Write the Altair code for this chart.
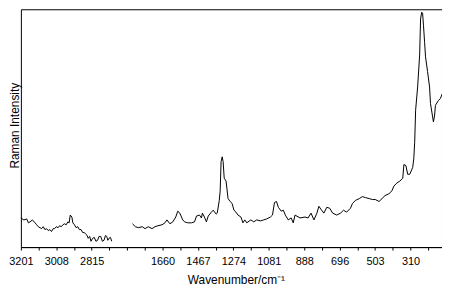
import altair as alt
import pandas as pd

# High-wavenumber window (cm-1) and its Raman intensity (arbitrary units)
wavenumber_hi = [3201, 3185, 3169, 3160, 3151, 3138, 3124, 3115, 3106, 3088, 3079, 3070,
                 3061, 3052, 3043, 3034, 3025, 3017, 3008, 2998, 2990, 2981, 2972, 2963,
                 2954, 2945, 2938, 2932, 2923, 2918, 2909, 2900, 2891, 2882, 2873,
                 2864, 2855, 2846, 2840, 2834, 2826, 2819, 2810, 2801, 2792, 2783, 2775,
                 2766, 2757, 2748, 2740, 2733, 2727, 2721, 2713, 2706]
intensity_hi = [30, 28, 29, 25, 26, 28, 25, 23, 21, 19, 21, 18,
                19, 17, 18, 16, 19, 19, 21, 20, 22, 21, 23, 24,
                23, 26, 25, 33, 31, 25, 23, 20, 21, 18, 18,
                15, 15, 13, 12, 9, 11, 6, 9, 10, 6, 7, 11,
                11, 6, 7, 12, 11, 7, 9, 10, 6]

# Fingerprint / low-wavenumber window
wavenumber_lo = [1824, 1808, 1792, 1771, 1755, 1738, 1717, 1701, 1685, 1663,
                 1647, 1636, 1620, 1604, 1588, 1577, 1566, 1550, 1540, 1523,
                 1502, 1486, 1475, 1459, 1448, 1443, 1432, 1421, 1411, 1394,
                 1384, 1368, 1362, 1351, 1346, 1341, 1335, 1330, 1324, 1314,
                 1303, 1292, 1281, 1271, 1260, 1249, 1233, 1222, 1212, 1201,
                 1179, 1163, 1147, 1126, 1109, 1093, 1072, 1061, 1050, 1039,
                 1029, 1013, 1002, 991, 975, 959, 948, 938, 911, 884,
                 867, 851, 835, 819, 808, 797, 781, 765, 749, 733,
                 711, 690, 674, 657, 636, 625, 609, 588, 571, 555,
                 534, 517, 501, 480, 464, 448, 426, 410, 399, 383,
                 367, 351, 345, 334, 324, 313, 297, 291, 286, 281,
                 270, 259, 254, 248, 243, 238, 232, 227, 216, 205,
                 200, 189, 184, 178, 173, 157, 146, 136]
intensity_lo = [24, 21, 20, 21, 19, 21, 19, 21, 22, 23,
                25, 28, 24, 26, 31, 37, 35, 28, 26, 25,
                25, 26, 32, 33, 30, 35, 31, 26, 32, 36,
                38, 34, 35, 48, 58, 88, 93, 88, 71, 68,
                50, 47, 45, 38, 36, 33, 31, 25, 28, 25,
                28, 26, 28, 27, 28, 29, 31, 33, 46, 47,
                41, 37, 38, 33, 28, 30, 25, 33, 30, 31,
                30, 35, 28, 35, 42, 39, 35, 41, 40, 35,
                33, 35, 38, 36, 40, 45, 48, 50, 52, 51,
                50, 49, 49, 47, 50, 53, 55, 58, 63, 66,
                68, 71, 85, 84, 75, 75, 82, 91, 108, 141,
                165, 198, 235, 242, 241, 228, 211, 196, 181, 165,
                148, 135, 129, 135, 146, 151, 153, 158]

# Axis tick labels (one per label step of 193 cm-1, the 4th falls in the break)
tick_labels = ["3201", "3008", "2815", "", "1660", "1467", "1274",
               "1081", "888", "696", "503", "310"]

STEP = 193.0
hi = pd.DataFrame({"wavenumber": wavenumber_hi, "intensity": intensity_hi, "segment": "hi"})
lo = pd.DataFrame({"wavenumber": wavenumber_lo, "intensity": intensity_lo, "segment": "lo"})
hi["pos"] = (3201 - hi["wavenumber"]) / STEP
lo["pos"] = 4 + (1660 - lo["wavenumber"]) / STEP
df = pd.concat([hi, lo], ignore_index=True)

label_array = "[" + ",".join("'" + t + "'" for t in tick_labels) + "]"
tick_values = [k * 0.5 for k in range(24)]

font = "Liberation Sans"

chart = alt.Chart(df).mark_line(color="black", strokeWidth=1).encode(
    x=alt.X("pos:Q",
            scale=alt.Scale(domain=[0, 11.89], nice=False, zero=False),
            axis=alt.Axis(values=tick_values,
                          labelExpr=f"datum.value % 1 == 0 ? {label_array}[datum.value] : ''",
                          title="Wavenumber/cm⁻¹",
                          grid=False, tickSize=3, tickColor="black", domainColor="black",
                          labelPadding=6, labelFontSize=11, labelFont=font,
                          labelColor="black", labelFlush=False,
                          labelOverlap=False,
                          titleFont=font, titleFontSize=12, titleFontWeight="normal",
                          titleColor="black", titleX=217, titleY=28,
                          titleBaseline="top", titleAlign="center")),
    y=alt.Y("intensity:Q",
            scale=alt.Scale(domain=[0, 245], nice=False, zero=False),
            axis=alt.Axis(labels=False, ticks=False, grid=False, domain=False,
                          title="Raman Intensity",
                          titleFont=font, titleFontSize=12, titleFontWeight="normal",
                          titleColor="black", titleAngle=270, titleX=-2, titleY=117,
                          titleAlign="center", titleBaseline="alphabetic")),
    detail="segment:N",
).properties(
    width=425, height=240,
    autosize=alt.AutoSizeParams(type="none"),
    padding={"left": 13, "top": 0, "right": 0, "bottom": 41},
).configure_view(stroke="black", strokeWidth=1)

chart.save("out.html", embed_options={"renderer": "svg", "actions": False})
